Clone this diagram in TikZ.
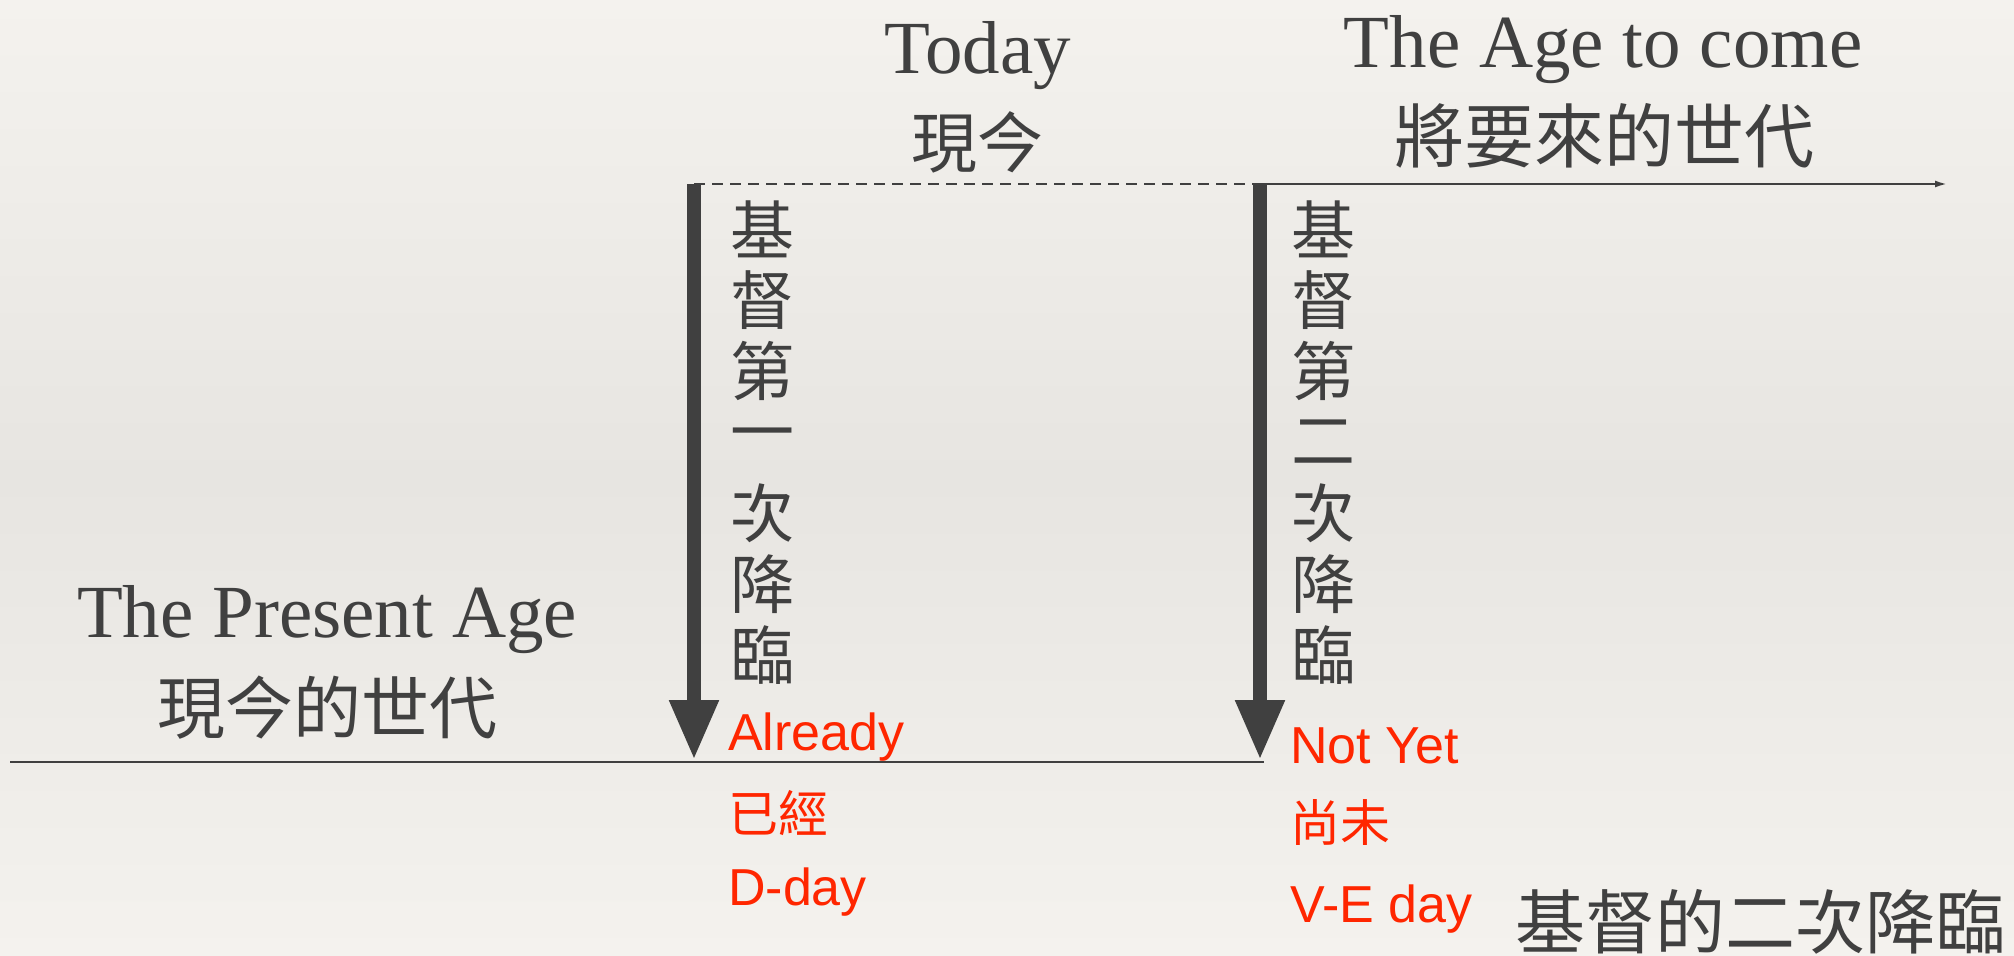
\documentclass[tikz,border=0pt]{standalone}
\usepackage{fontspec}
\setsansfont{Liberation Sans}
\newfontfamily\serifen{Liberation Serif}
\newfontfamily\cjk{Noto Sans CJK TC}
\usepackage{tikz}
\usetikzlibrary{arrows.meta}
\usepackage{xcolor}
\definecolor{ink}{RGB}{64,64,64}
\definecolor{hot}{RGB}{255,38,0}
\definecolor{paper}{RGB}{244,242,238}
\definecolor{paperdark}{RGB}{231,229,225}
\tikzset{>=latex}

\begin{document}
\begin{tikzpicture}[x=1pt, y=-1pt]
                        % px-like units, y grows downwards
                        \tikzstyle{every node}=[inner sep=0pt, text=ink]
                        \tikzstyle{eng}=[font=\serifen\fontsize{75}{75}\selectfont, anchor=base]
                        \tikzstyle{zh}=[font=\cjk\fontsize{68}{68}\selectfont]
                        \tikzstyle{vchar}=[font=\cjk\fontsize{64}{64}\selectfont]
                        \tikzstyle{note}=[text=hot, font=\sffamily\fontsize{52}{52}\selectfont, anchor=base west]
                        \tikzstyle{notezh}=[text=hot, font=\cjk\fontsize{50}{50}\selectfont, anchor=west]
                        \tikzstyle{coming}=[draw=ink, line width=14pt, -{Triangle[width=46pt,length=60pt]}]

                        \shade[top color=paper, bottom color=paper, middle color=paperdark] (0,0) rectangle (2014,956);
                        \useasboundingbox (0,0) rectangle (2014,956);

                        \coordinate (T1) at (694,184);
                        \coordinate (T2) at (1260,184);
                        \coordinate (B1) at (694,760);
                        \coordinate (B2) at (1260,760);
                        \coordinate (S) at (10,762);
                        \coordinate (SE) at (1264,762);
                        \coordinate (F) at (1947,184);

                        \draw[ink, line width=2.5pt] (S) -- (SE);
                        \draw[ink, line width=2pt, dash pattern=on 11pt off 7pt] (T1) -- (T2);
                        \draw[ink, line width=2pt, -{Latex[length=12pt,width=7pt]}] (T2) -- (F);
                        \draw[coming] (T1) -- (B1);
                        \draw[coming] (T2) -- (B2);

                        \node[eng] (today) at (978,73) {Today};
                        \node[zh, font=\cjk\fontsize{66}{66}\selectfont] (xj) at (977,142) {現今};
                        \node[eng] (agec) at (1603,67) {The Age to come};
                        \node[zh, font=\cjk\fontsize{70}{70}\selectfont] (jy) at (1604,136) {將要來的世代};
                        \node[eng] (agep) at (327,637) {The Present Age};
                        \node[zh] (xd) at (327,708) {現今的世代};

                        \foreach \ch [count=\i] in {基,督,第,一,次,降,臨}
                                \node[vchar] (a\i) at (762,158+71*\i) {\ch};
                        \foreach \ch [count=\i] in {基,督,第,二,次,降,臨}
                                \node[vchar] (b\i) at (1323,158+71*\i) {\ch};

                        \node[note] (al) at (728,750) {Already};
                        \node[notezh] (yj) at (728,813) {已經};
                        \node[note] (dd) at (728,905) {D-day};
                        \node[note] (ny) at (1290,763) {Not Yet};
                        \node[notezh] (sw) at (1290,822) {尚未};
                        \node[note] (ve) at (1290,922) {V-E day};
                        \node[zh, font=\cjk\fontsize{70}{70}\selectfont] (second) at (1760,922) {基督的二次降臨};

                \end{tikzpicture}
\end{document}
